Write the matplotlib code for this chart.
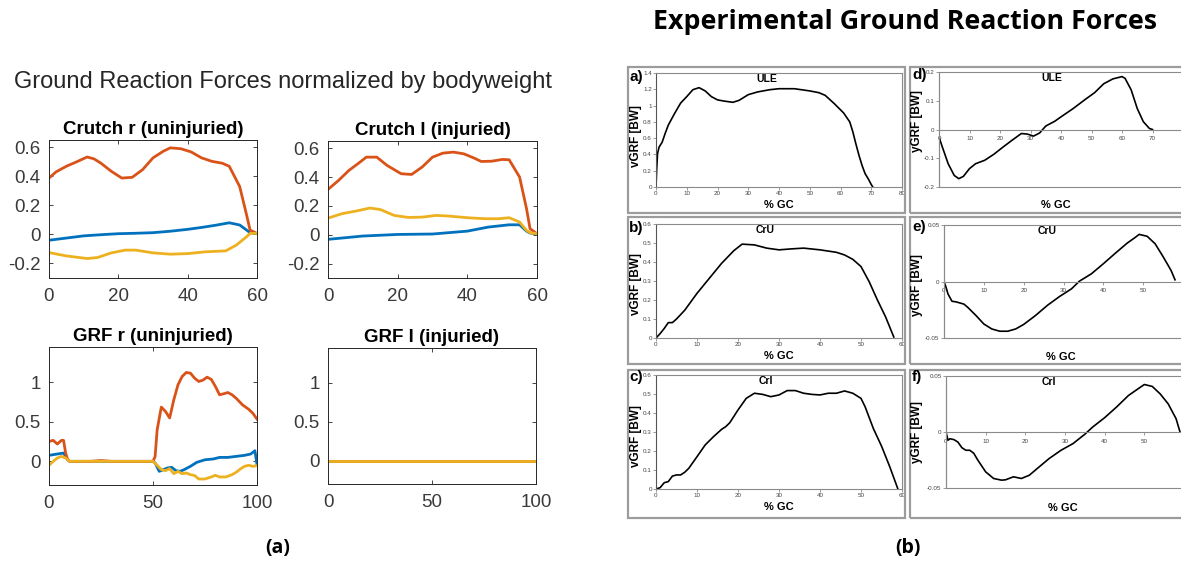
import numpy as np
import matplotlib
matplotlib.use('Agg')
import matplotlib.pyplot as plt
from matplotlib.patches import Rectangle

plt.rcParams['font.family'] = ['Liberation Sans', 'DejaVu Sans']

# ---------------- data: left (simulation, MATLAB) ----------------
crutch_r_fx_x = [0, 5, 10, 15, 20, 25, 30, 35, 40, 44, 48, 52, 55, 57, 58, 60]
crutch_r_fx = [-0.04, -0.025, -0.01, -0.002, 0.005, 0.008, 0.012, 0.022, 0.035, 0.048, 0.063, 0.08, 0.065, 0.03, 0.012, 0.005]
crutch_r_fy_x = [0, 2, 5, 8, 11, 13, 15, 18, 21, 24, 27, 30, 33, 35, 38, 41, 44, 47, 50, 52, 55, 57, 58, 60]
crutch_r_fy = [0.388, 0.43, 0.469, 0.50, 0.533, 0.52, 0.49, 0.434, 0.388, 0.393, 0.446, 0.527, 0.573, 0.596, 0.59, 0.568, 0.527, 0.503, 0.49, 0.469, 0.33, 0.134, 0.03, 0.007]
crutch_r_fz_x = [0, 5, 11, 14, 18, 22, 25, 30, 35, 40, 45, 51, 54, 57, 58, 60]
crutch_r_fz = [-0.125, -0.148, -0.166, -0.159, -0.127, -0.108, -0.108, -0.127, -0.136, -0.132, -0.12, -0.113, -0.074, -0.016, 0.007, 0.007]

crutch_l_fx_x = [0, 10, 20, 30, 40, 46, 52, 55, 57, 58, 60]
crutch_l_fx = [-0.032, -0.009, 0.002, 0.005, 0.025, 0.053, 0.069, 0.069, 0.025, 0.012, 0.007]
crutch_l_fy_x = [0, 3, 6, 9, 11, 14, 17, 21, 24, 27, 30, 33, 36, 39, 42, 44, 47, 50, 52, 55, 57, 58, 60]
crutch_l_fy = [0.314, 0.376, 0.446, 0.50, 0.538, 0.538, 0.48, 0.423, 0.418, 0.469, 0.538, 0.566, 0.573, 0.561, 0.531, 0.508, 0.51, 0.522, 0.52, 0.40, 0.18, 0.042, 0.007]
crutch_l_fz_x = [0, 4, 8, 12, 15, 19, 23, 27, 31, 35, 40, 45, 49, 52, 55, 57, 58, 60]
crutch_l_fz = [0.115, 0.146, 0.164, 0.185, 0.175, 0.134, 0.12, 0.122, 0.134, 0.129, 0.118, 0.111, 0.111, 0.118, 0.088, 0.03, 0.014, 0.007]

grf_r_fx_x = [0, 4, 7, 9, 10, 50, 51, 53, 55, 57, 59, 61, 63, 65, 68, 71, 75, 79, 82, 86, 90, 94, 97, 99, 100]
grf_r_fx = [0.076, 0.093, 0.105, 0.02, 0, 0, -0.02, -0.127, -0.105, -0.084, -0.076, -0.118, -0.127, -0.105, -0.063, -0.013, 0.02, 0.03, 0.05, 0.05, 0.063, 0.076, 0.093, 0.135, -0.04]
grf_r_fy_x = [0, 2, 4, 6, 7, 8, 9, 10, 20, 25, 30, 50, 51, 52, 54, 56, 58, 60, 62, 64, 66, 68, 70, 72, 74, 76, 78, 80, 82, 84, 86, 88, 90, 93, 96, 98, 100]
grf_r_fy = [0.253, 0.266, 0.22, 0.266, 0.266, 0.105, 0.02, 0, 0, 0.01, 0, 0, 0.06, 0.4, 0.688, 0.633, 0.55, 0.78, 0.97, 1.076, 1.127, 1.118, 1.055, 1.013, 1.03, 1.067, 1.04, 0.95, 0.844, 0.857, 0.873, 0.844, 0.80, 0.717, 0.66, 0.61, 0.536]
grf_r_fz_x = [0, 2, 4, 6, 8, 10, 50, 52, 54, 56, 58, 60, 62, 64, 66, 68, 70, 72, 75, 78, 80, 82, 85, 88, 90, 92, 94, 96, 98, 100]
grf_r_fz = [-0.05, 0, 0.042, 0.063, 0.042, 0, 0, -0.05, -0.105, -0.118, -0.093, -0.156, -0.127, -0.156, -0.148, -0.169, -0.18, -0.224, -0.224, -0.198, -0.177, -0.198, -0.198, -0.169, -0.139, -0.097, -0.063, -0.05, -0.063, -0.055]

grf_l_x = [0, 100]
grf_l_fx = [0, 0]
grf_l_fy = [0, 0]
grf_l_fz = [0, 0]

# ---------------- data: right (experimental) ----------------
ule_v_x = [0, 0.2, 0.5, 1, 2, 3, 4, 6, 8, 10, 12, 14, 16, 18, 20, 22, 25, 27, 30, 33, 37, 40, 45, 50, 53, 55, 58, 61, 63, 64, 65, 66, 67, 68, 69, 70, 70.5]
ule_v = [0, 0.2, 0.41, 0.49, 0.55, 0.66, 0.76, 0.9, 1.03, 1.11, 1.195, 1.22, 1.18, 1.11, 1.07, 1.056, 1.04, 1.064, 1.134, 1.167, 1.195, 1.207, 1.207, 1.18, 1.158, 1.126, 1.023, 0.91, 0.8, 0.68, 0.53, 0.39, 0.266, 0.164, 0.102, 0.03, 0]
ule_y_x = [0, 1, 3, 5, 6.5, 8, 10, 12, 15, 18, 21, 24, 27, 29, 31, 33, 35, 38, 40, 44, 48, 51, 54, 57, 60, 61, 63, 65, 67, 69, 70]
ule_y = [-0.026, -0.058, -0.119, -0.16, -0.171, -0.163, -0.136, -0.119, -0.107, -0.086, -0.061, -0.037, -0.014, -0.016, -0.023, -0.012, 0.012, 0.029, 0.044, 0.073, 0.105, 0.128, 0.159, 0.176, 0.184, 0.178, 0.138, 0.073, 0.027, 0.0035, 0]
cru_v_x = [0, 1, 2, 3, 4, 5, 7, 10, 13, 16, 19, 21, 24, 27, 30, 33, 36, 40, 44, 46, 48, 50, 52, 54, 56, 57, 58]
cru_v = [0, 0.023, 0.05, 0.081, 0.081, 0.1, 0.146, 0.235, 0.314, 0.393, 0.46, 0.494, 0.49, 0.473, 0.464, 0.469, 0.473, 0.464, 0.451, 0.437, 0.414, 0.376, 0.296, 0.2, 0.111, 0.058, 0.005]
cru_y_x = [0, 0.5, 1, 2, 3, 4, 5, 6, 8, 10, 12, 14, 16, 18, 20, 23, 26, 29, 32, 34, 37, 40, 43, 46, 48, 49, 51, 53, 55, 57, 58]
cru_y = [0, -0.005, -0.011, -0.0175, -0.018, -0.019, -0.020, -0.023, -0.030, -0.0376, -0.042, -0.044, -0.044, -0.042, -0.038, -0.030, -0.021, -0.0133, -0.0065, 0.0003, 0.0068, 0.0157, 0.025, 0.034, 0.039, 0.0417, 0.04, 0.0334, 0.022, 0.0098, 0.0015]
cri_v_x = [0, 1, 2, 3, 4, 5, 6, 7, 8, 10, 12, 14, 16, 17, 18, 20, 22, 24, 26, 28, 30, 32, 34, 36, 38, 40, 42, 44, 46, 48, 50, 51, 53, 55, 57, 59]
cri_v = [0, 0.007, 0.033, 0.039, 0.068, 0.074, 0.074, 0.088, 0.109, 0.17, 0.232, 0.275, 0.314, 0.328, 0.349, 0.416, 0.477, 0.504, 0.498, 0.486, 0.495, 0.518, 0.518, 0.504, 0.498, 0.495, 0.504, 0.504, 0.516, 0.504, 0.477, 0.433, 0.319, 0.226, 0.118, 0]
cri_y_x = [0, 0.5, 1, 2, 3, 4, 5, 6, 7, 8, 10, 12, 14, 15, 17, 19, 21, 23, 26, 29, 32, 35, 37, 40, 43, 46, 49, 50, 52, 54, 56, 58, 59]
cri_y = [0, -0.0074, -0.006, -0.0068, -0.009, -0.014, -0.0163, -0.0163, -0.019, -0.025, -0.0356, -0.0415, -0.043, -0.0427, -0.040, -0.0415, -0.0386, -0.0326, -0.0237, -0.0163, -0.0104, -0.002, 0.0045, 0.0128, 0.0223, 0.0326, 0.04, 0.0424, 0.0407, 0.034, 0.0252, 0.0119, 0]

# ---------------- figure ----------------
W, H = 1181, 563
fig = plt.figure(figsize=(W / 100, H / 100), dpi=100)


def rect(l, t, r, b):
    return [l / W, 1 - b / H, (r - l) / W, (b - t) / H]


def ftext(x, y, s, **kw):
    fig.text(x / W, 1 - y / H, s, **kw)


BLUE, ORANGE, YELLOW = '#0072BD', '#D95319', '#EDB120'
TICKC = '#3a3a3a'


def matlab_axes(pos, title, xlim, ylim, xticks, yticks, yticklabels):
    ax = fig.add_axes(rect(*pos))
    ax.set_xlim(*xlim)
    ax.set_ylim(*ylim)
    ax.set_xticks(xticks)
    ax.set_xticklabels([str(t) for t in xticks])
    ax.set_yticks(yticks)
    ax.set_yticklabels(yticklabels)
    ax.tick_params(direction='in', top=True, right=True, length=3, width=0.6,
                   labelsize=13.5, labelcolor=TICKC, color='#262626')
    ax.tick_params(axis='x', pad=7)
    ax.tick_params(axis='y', pad=6)
    for s in ax.spines.values():
        s.set_color('#262626')
        s.set_linewidth(0.7)
    ax.set_title(title, fontsize=13.5, fontweight='bold', pad=4)
    return ax


lw = 2.0
ax1 = matlab_axes((49, 140, 257, 278), 'Crutch r (uninjuried)', (0, 60), (-0.3, 0.65),
                  [0, 20, 40, 60], [-0.2, 0, 0.2, 0.4, 0.6], ['-0.2', '0', '0.2', '0.4', '0.6'])
ax1.plot(crutch_r_fx_x, crutch_r_fx, color=BLUE, lw=lw)
ax1.plot(crutch_r_fy_x, crutch_r_fy, color=ORANGE, lw=lw)
ax1.plot(crutch_r_fz_x, crutch_r_fz, color=YELLOW, lw=lw)

ax2 = matlab_axes((328, 141, 537, 278), 'Crutch l (injuried)', (0, 60), (-0.3, 0.65),
                  [0, 20, 40, 60], [-0.2, 0, 0.2, 0.4, 0.6], ['-0.2', '0', '0.2', '0.4', '0.6'])
ax2.plot(crutch_l_fx_x, crutch_l_fx, color=BLUE, lw=lw)
ax2.plot(crutch_l_fy_x, crutch_l_fy, color=ORANGE, lw=lw)
ax2.plot(crutch_l_fz_x, crutch_l_fz, color=YELLOW, lw=lw)

ax3 = matlab_axes((49, 347, 257, 485), 'GRF r (uninjuried)', (0, 100), (-0.3, 1.45),
                  [0, 50, 100], [0, 0.5, 1], ['0', '0.5', '1'])
ax3.plot(grf_r_fx_x, grf_r_fx, color=BLUE, lw=lw)
ax3.plot(grf_r_fy_x, grf_r_fy, color=ORANGE, lw=lw)
ax3.plot(grf_r_fz_x, grf_r_fz, color=YELLOW, lw=lw)

ax4 = matlab_axes((328, 348, 536, 484), 'GRF l (injuried)', (0, 100), (-0.3, 1.45),
                  [0, 50, 100], [0, 0.5, 1], ['0', '0.5', '1'])
ax4.plot(grf_l_x, grf_l_fx, color=BLUE, lw=lw)
ax4.plot(grf_l_x, grf_l_fy, color=ORANGE, lw=lw)
ax4.plot(grf_l_x, grf_l_fz, color=YELLOW, lw=lw)

ftext(283, 82, 'Ground Reaction Forces normalized by bodyweight', fontsize=17,
      color='#262626', ha='center', va='center')
ftext(278, 548, '(a)', fontsize=14, fontweight='bold', ha='center', va='center',
      family=['Open Sans', 'DejaVu Sans'])
ftext(908, 548, '(b)', fontsize=14, fontweight='bold', ha='center', va='center',
      family=['Open Sans', 'DejaVu Sans'])
ftext(905, 22, 'Experimental Ground Reaction Forces', fontsize=19.3, fontweight='bold',
      ha='center', va='center', family=['Open Sans', 'DejaVu Sans'])

# ---------------- right panels ----------------
GRAY = '#8a8a8a'
for (l, t, r, b) in [(628, 67, 905, 213), (910, 67, 1185, 213),
                     (628, 217, 905, 364), (910, 217, 1185, 364),
                     (628, 370, 905, 518), (910, 370, 1185, 518)]:
    fig.patches.append(Rectangle((l / W, 1 - b / H), (r - l) / W, (b - t) / H,
                                 transform=fig.transFigure, fill=False,
                                 edgecolor='#9c9c9c', lw=1.6))


def fmt(v):
    s = ('%.2f' % v).rstrip('0').rstrip('.')
    return '0' if s in ('-0', '') else s


def excel_v(pos, xlim, ylim, xticks, yticks, x, y, name, tx, letter, lpos, ylpos):
    ax = fig.add_axes(rect(*pos))
    ax.set_xlim(*xlim)
    ax.set_ylim(*ylim)
    ax.set_xticks(xticks)
    ax.set_xticklabels([str(t) for t in xticks])
    ax.set_yticks(yticks)
    ax.set_yticklabels([fmt(v) for v in yticks])
    ax.tick_params(direction='out', length=2, width=0.6, labelsize=4.5,
                   labelcolor='#444444', color=GRAY, pad=1.0)
    for s in ax.spines.values():
        s.set_color(GRAY)
        s.set_linewidth(0.8)
    ax.spines['left'].set_color('#555555')
    ax.plot(x, y, color='black', lw=1.2)
    ax.text(tx, 0.945, name, transform=ax.get_xaxis_transform(), ha='center',
            va='center', fontsize=7.5, fontweight='bold')
    ax.text(0.5, -0.158, '% GC', transform=ax.transAxes, ha='center', va='center',
            fontsize=8, fontweight='bold')
    ftext(lpos[0], lpos[1], letter, fontsize=11, fontweight='bold', ha='left', va='center')
    ftext(ylpos[0], ylpos[1], 'vGRF [BW]', fontsize=8.5, fontweight='bold', rotation=90,
          ha='center', va='center')
    return ax


def excel_y(pos, xlim, ylim, xticks, yticks, x, y, name, tx, letter, lpos, ylpos, gcx, gcy):
    ax = fig.add_axes(rect(*pos))
    ax.set_xlim(*xlim)
    ax.set_ylim(*ylim)
    ax.set_xticks(xticks)
    ax.set_xticklabels([str(t) for t in xticks])
    ax.set_yticks(yticks)
    ax.set_yticklabels([fmt(v) for v in yticks])
    ax.spines['bottom'].set_position(('data', 0))
    ax.spines['top'].set_visible(False)
    ax.spines['right'].set_visible(False)
    for s in ax.spines.values():
        s.set_color(GRAY)
        s.set_linewidth(0.8)
    ax.add_patch(Rectangle((0, 0), 1, 1, transform=ax.transAxes, fill=False,
                           edgecolor=GRAY, lw=0.8, clip_on=False))
    ax.tick_params(direction='out', length=2, width=0.6, labelsize=4.5,
                   labelcolor='#444444', color=GRAY, pad=1.2)
    ax.tick_params(axis='x', pad=3)
    ax.plot(x, y, color='black', lw=1.2)
    ax.text(tx, 0.945, name, transform=ax.get_xaxis_transform(), ha='center',
            va='center', fontsize=7.5, fontweight='bold')
    ax.text(gcx, gcy, '% GC', transform=ax.transAxes, ha='center', va='center',
            fontsize=8, fontweight='bold')
    ftext(lpos[0], lpos[1], letter, fontsize=11, fontweight='bold', ha='left', va='center')
    ftext(ylpos[0], ylpos[1], 'yGRF [BW]', fontsize=8.5, fontweight='bold', rotation=90,
          ha='center', va='center')
    return ax


excel_v((656, 73, 902, 187), (0, 80), (0, 1.4), list(range(0, 81, 10)),
        [0, 0.2, 0.4, 0.6, 0.8, 1.0, 1.2, 1.4], ule_v_x, ule_v, 'ULE', 36,
        'a)', (629, 77), (636, 136))
excel_v((656, 224, 902, 338), (0, 60), (0, 0.6), list(range(0, 61, 10)),
        [0, 0.1, 0.2, 0.3, 0.4, 0.5, 0.6], cru_v_x, cru_v, 'CrU', 26.6,
        'b)', (629, 228), (636, 284))
excel_v((656, 375, 902, 489), (0, 60), (0, 0.6), list(range(0, 61, 10)),
        [0, 0.1, 0.2, 0.3, 0.4, 0.5, 0.6], cri_v_x, cri_v, 'CrI', 26.8,
        'c)', (629, 377), (636, 436))

excel_y((939, 72, 1183, 187), (0, 80), (-0.2, 0.2), list(range(0, 71, 10)),
        [-0.2, -0.1, 0, 0.1, 0.2], ule_y_x, ule_y, 'ULE', 37,
        'd)', (912, 75), (917, 121), 0.48, -0.157)
excel_y((944, 225, 1183, 338), (0, 60), (-0.05, 0.05), list(range(0, 51, 10)),
        [-0.05, 0, 0.05], cru_y_x, cru_y, 'CrU', 26,
        'e)', (912, 227), (917, 285), 0.49, -0.168)
excel_y((946, 376, 1184, 488), (0, 60), (-0.05, 0.05), list(range(0, 51, 10)),
        [-0.05, 0, 0.05], cri_y_x, cri_y, 'CrI', 26,
        'f)', (912, 377), (917, 432), 0.49, -0.18)

fig.savefig('out.png', dpi=100)
